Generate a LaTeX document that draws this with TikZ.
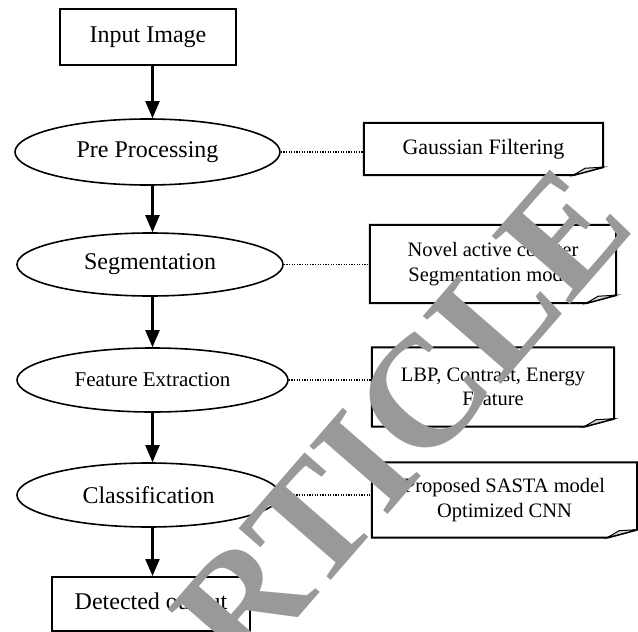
\documentclass[tikz,border=0pt]{standalone}
\usepackage{fontspec}
\setmainfont{Liberation Serif}
\usetikzlibrary{shapes.geometric,arrows.meta,calc}
\begin{document}
\begin{tikzpicture}[x=1pt,y=-1pt,
  procbox/.style={draw,line width=2pt,rectangle,inner sep=0pt,font=\fontsize{24}{28}\selectfont},
  procell/.style={draw,line width=1.6pt,ellipse,inner sep=0pt,font=\fontsize{24}{28}\selectfont},
  notebox/.style={draw=none,rectangle,inner sep=0pt,align=center,font=\fontsize{20.5}{24.5}\selectfont},
  noteline/.style={line width=2pt,line join=miter},
  foldfill/.style={fill=black!15,draw,line width=1pt},
  arr/.style={line width=2.2pt,-{Triangle[width=14pt,length=17pt]}},
  dotline/.style={line width=1.5pt,dash pattern=on 1.2pt off 1.4pt},
  wmark/.style={text=black!40,font=\bfseries\fontsize{158}{158}\selectfont,inner sep=0pt,text height=105pt,text depth=0pt}
]
\useasboundingbox (0,0) rectangle (638,632);
\coordinate (ax) at (152.5,0);
% main flow
\node[procbox,minimum width=176pt,minimum height=56pt] (inp) at (148,37) {Input Image};
\node[procell,minimum width=265pt,minimum height=66pt] (pre) at (147.5,152) {Pre Processing};
\node[procell,minimum width=266pt,minimum height=63pt] (seg) at (150,264.5) {Segmentation};
\node[procell,minimum width=271pt,minimum height=64pt,font=\fontsize{21}{25}\selectfont] (fe) at (152.5,380) {Feature Extraction};
\node[procell,minimum width=263pt,minimum height=64pt] (cl) at (148.5,495) {Classification};
\node[procbox,minimum width=198pt,minimum height=54pt] (det) at (151,604) {Detected output};
% notes
\node[notebox,minimum width=239pt,minimum height=52pt,font=\fontsize{22}{26}\selectfont] (gau) at (483.5,149) {Gaussian Filtering};
\node[notebox,minimum width=246pt,minimum height=78pt] (nov) at (493,264) {Novel active counter\\Segmentation model};
\node[notebox,minimum width=242pt,minimum height=79pt] (lbp) at (493,387) {LBP, Contrast, Energy\\Feature};
\node[notebox,minimum width=265pt,minimum height=75pt] (pro) at (504.5,500) {Proposed SASTA model\\Optimized CNN};
\foreach \n in {gau,nov,lbp,pro}{
  \draw[noteline] ($(\n.south east)+(0,-8)$) -- (\n.north east) -- (\n.north west) -- (\n.south west) -- ($(\n.south east)+(-30,0)$) -- cycle;
  \draw[foldfill] ($(\n.south east)+(-30,0)$) -- ($(\n.south east)+(-18,-7)$) -- ($(\n.south east)+(0,-8)$) -- cycle;
}
% arrows
\draw[arr] (inp.south -| ax) -- (pre.north -| ax);
\draw[arr] (pre.south -| ax) -- (seg.north -| ax);
\draw[arr] (seg.south -| ax) -- (fe.north -| ax);
\draw[arr] (fe.south -| ax) -- (cl.north -| ax);
\draw[arr] (cl.south -| ax) -- (det.north -| ax);
% dotted links
\draw[dotline] (pre.east) -- (pre.east -| gau.west);
\draw[dotline] (seg.east) -- (seg.east -| nov.west);
\draw[dotline] (fe.east) -- (fe.east -| lbp.west);
\draw[dotline] (cl.east) -- (cl.east -| pro.west);
% watermark
\node[wmark,rotate=49] (wm) at (364,462) {ARTICLE};
\end{tikzpicture}
\end{document}
